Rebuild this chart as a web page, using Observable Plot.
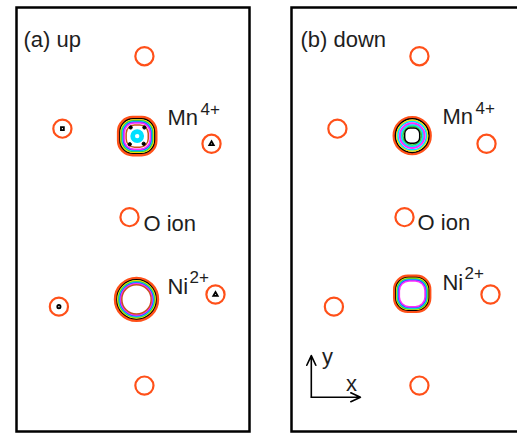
<!DOCTYPE html>
<html><head><meta charset="utf-8">
<script src="https://cdn.jsdelivr.net/npm/d3@7"></script>
<script src="https://cdn.jsdelivr.net/npm/@observablehq/plot@0.6"></script>
<style>
html,body{margin:0;padding:0;background:#fff;overflow:hidden;}
#wrap{display:flex;width:517px;height:434px;overflow:hidden;}
#wrap svg{flex:none;}
</style></head><body><div id="wrap"></div>
<script>
// ---------- data ----------
const panels = ["up", "down"];
const panelLabels = ["(a) up", "(b) down"];

// oxygen sites (Å), identical in both panels
const oxygenX = [5.49, 1.97, 8.37, 4.85, 1.82, 8.54, 5.49];
const oxygenY = [16.11, 13.00, 12.35, 9.20, 5.36, 5.88, 1.97];
const oxygenContour = 0.39;           // radius of the outer O contour (Å)
// small inner contours on O sites (spin up only)
const oxInnerSite = [1, 2, 4, 5];
const oxInnerShape = ["square", "triangle", "circle", "triangle"];
const oxInnerRadius = 0.07;

// cation sites
const cationPanel = ["up", "up", "down", "down"];
const cationIon = ["Mn", "Ni", "Mn", "Ni"];
const cationX = [5.18, 5.15, 5.18, 5.18];
const cationY = [12.68, 5.67, 12.70, 5.91];

// contour levels
const levels = ["0.05", "0.10", "0.15", "0.20", "0.25", "0.30", "0.35", "0.40"];
const levelColors = ["#ff5019", "#000000", "#f0e400", "#2ecc40", "#00e0ff", "#3050ff", "#ff2bff", "#c8501e"];

// contour rings around cations: cation index, level index, radius (Å), rounded-square shape?
const ringCation = [0,0,0,0,0,0,0,0,0,0,
                    1,1,1,1,1,1,1,1,
                    2,2,2,2,2,2,2,2,2,
                    3,3,3,3,3,3,3];
const ringLevel  = [0,1,2,3,4,5,6,7,4,4,
                    0,1,2,3,4,5,6,7,
                    0,1,2,4,6,6,4,3,1,
                    0,1,2,3,4,5,6];
const ringRadius = [0.85,0.78,0.73,0.69,0.65,0.62,0.59,0.50,0.22,0.17,
                    0.91,0.84,0.80,0.76,0.73,0.70,0.67,0.63,
                    0.78,0.72,0.66,0.61,0.54,0.51,0.46,0.40,0.34,
                    0.80,0.74,0.70,0.67,0.64,0.61,0.58];
const ringSquare = [1,1,1,1,1,1,1,1,0,0,
                    0,0,0,0,0,0,0,0,
                    0,0,0,0,0,0,0,0,1,
                    1,1,1,1,1,1,1];

// lobes inside Mn (spin up)
const lobeX = [4.90, 5.49, 4.86, 5.46];
const lobeY = [13.05, 13.05, 12.33, 12.35];
const lobeRadius = 0.17;
const lobeCore = 0.07;

// labels
const labelPanel = ["up", "up", "up", "down", "down", "down"];
const labelText = ["Mn", "Ni", "O ion", "Mn", "Ni", "O ion"];
const labelX = [6.48, 6.48, 5.45, 6.48, 6.48, 5.41];
const labelY = [13.48, 6.22, 8.93, 13.52, 6.39, 8.97];
const chargeText = ["4+", "2+", "", "4+", "2+", ""];

// coordinate axes (panel b)
const axisX1 = [0.85, 0.85], axisY1 = [1.47, 1.47];
const axisX2 = [0.85, 2.96], axisY2 = [3.26, 1.47];
const axisName = ["y", "x"];
const axisLabelX = [1.55, 2.58], axisLabelY = [3.20, 2.02];

// ---------- drawing ----------
const pxPerUnit = 23.3;
const xDomain = [0, 10], yDomain = [0, 18.2];
const font = "'Liberation Sans', Arial, Helvetica, sans-serif";
const textColor = "#1e1e1e";

const roundedSquare = {
  draw(ctx, size) {
    const r = Math.sqrt(size / Math.PI);
    const h = r * 0.95, c = r * 0.72;
    ctx.moveTo(-h + c, -h);
    ctx.lineTo(h - c, -h);
    ctx.arcTo(h, -h, h, -h + c, c);
    ctx.lineTo(h, h - c);
    ctx.arcTo(h, h, h - c, h, c);
    ctx.lineTo(-h + c, h);
    ctx.arcTo(-h, h, -h, h - c, c);
    ctx.lineTo(-h, -h + c);
    ctx.arcTo(-h, -h, -h + c, -h, c);
    ctx.closePath();
  }
};

const idx = n => d3.range(n);

function panel(p, pi) {
  const ml = pi === 0 ? 16 : 31;
  const mr = pi === 0 ? 11 : 2;
  const width = ml + 233 + mr;
  const rings = idx(ringCation.length).filter(i => cationPanel[ringCation[i]] === p);
  const sq = rings.filter(i => ringSquare[i]);
  const ci = rings.filter(i => !ringSquare[i]);
  const labs = idx(labelText.length).filter(i => labelPanel[i] === p);
  const ringOpts = {
    x: i => cationX[ringCation[i]],
    y: i => cationY[ringCation[i]],
    r: i => ringRadius[i],
    stroke: i => levels[ringLevel[i]],
    strokeWidth: i => ringLevel[i] === 0 ? 3 : (ringRadius[i] < 0.3 ? 3.5 : 1.5),
    sort: null
  };
  const marks = [
    Plot.dot(idx(oxygenX.length), {
      x: i => oxygenX[i], y: i => oxygenY[i], r: () => oxygenContour,
      stroke: "#ff5019", strokeWidth: 2.2
    }),
    Plot.dot(ci, ringOpts),
    Plot.dot(sq, {...ringOpts, symbol: roundedSquare})
  ];
  if (p === "up") {
    marks.push(
      Plot.dot(idx(oxInnerSite.length), {
        x: i => oxygenX[oxInnerSite[i]], y: i => oxygenY[oxInnerSite[i]],
        r: () => oxInnerRadius, symbol: i => oxInnerShape[i],
        stroke: "black", strokeWidth: 1.8
      }),
      Plot.dot(idx(lobeX.length), {
        x: i => lobeX[i], y: i => lobeY[i], r: () => lobeRadius,
        stroke: levels[0], strokeWidth: 1.6
      }),
      Plot.dot(idx(lobeX.length), {
        x: i => lobeX[i], y: i => lobeY[i], r: () => lobeCore,
        fill: "black", stroke: "black", strokeWidth: 1
      })
    );
  } else {
    marks.push(
      Plot.arrow(idx(axisName.length), {
        x1: i => axisX1[i], y1: i => axisY1[i], x2: i => axisX2[i], y2: i => axisY2[i],
        stroke: "black", strokeWidth: 1.6, headLength: 10, headAngle: 50
      }),
      Plot.text(idx(axisName.length), {
        x: i => axisLabelX[i], y: i => axisLabelY[i], text: i => axisName[i],
        textAnchor: "middle", lineAnchor: "middle", fontSize: 22, fill: textColor
      })
    );
  }
  marks.push(
    Plot.text(labs, {
      x: i => labelX[i], y: i => labelY[i], text: i => labelText[i],
      textAnchor: "start", lineAnchor: "middle", fontSize: 22, fill: textColor
    }),
    Plot.text(labs.filter(i => labelText[i] === "Mn"), {
      x: i => labelX[i], y: i => labelY[i], text: i => chargeText[i],
      textAnchor: "start", lineAnchor: "middle", fontSize: 17, fill: textColor, dx: 33, dy: -8
    }),
    Plot.text(labs.filter(i => labelText[i] === "Ni"), {
      x: i => labelX[i], y: i => labelY[i], text: i => chargeText[i],
      textAnchor: "start", lineAnchor: "middle", fontSize: 17, fill: textColor, dx: 22, dy: -9
    }),
    Plot.text([panelLabels[pi]], {
      frameAnchor: "top-left", textAnchor: "start", lineAnchor: "middle",
      dx: pi === 0 ? 7 : 9, dy: 32, fontSize: 22, fill: textColor
    }),
    Plot.frame({stroke: "black", strokeWidth: 2.5})
  );
  return Plot.plot({
    width, height: 434,
    marginLeft: ml, marginRight: mr, marginTop: 7, marginBottom: 3,
    x: {domain: xDomain, axis: null},
    y: {domain: yDomain, axis: null},
    r: {type: "linear", domain: [0, 1], range: [0, pxPerUnit]},
    color: {type: "ordinal", domain: levels, range: levelColors},
    symbol: {type: "identity"},
    style: {fontFamily: font, background: "white", overflow: "visible"},
    marks
  });
}

const wrap = document.getElementById("wrap");
panels.forEach((p, i) => wrap.appendChild(panel(p, i)));
</script></body></html>
